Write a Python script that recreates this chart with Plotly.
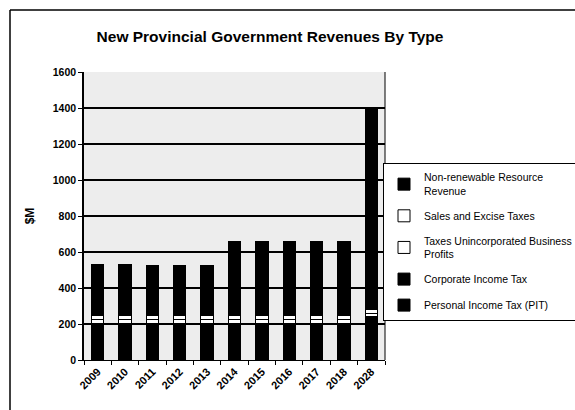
import plotly.graph_objects as go

years = ["2009", "2010", "2011", "2012", "2013", "2014", "2015", "2016", "2017", "2018", "2028"]
personal_income_tax = [205, 205, 205, 205, 205, 205, 205, 205, 205, 205, 240]
taxes_unincorporated = [20, 20, 20, 20, 20, 20, 20, 20, 20, 20, 20]
sales_excise = [20, 20, 20, 20, 20, 20, 20, 20, 20, 20, 20]
corporate_income_tax = [285, 285, 282, 282, 280, 415, 413, 412, 412, 412, 400]
non_renewable = [0, 0, 0, 0, 0, 0, 0, 0, 0, 0, 720]

# (legend label, values, colour, legend rank)
series = [
    ("Personal Income Tax (PIT)", personal_income_tax, "black", 5),
    ("Taxes Unincorporated Business<br>Profits", taxes_unincorporated, "white", 3),
    ("Sales and Excise Taxes", sales_excise, "white", 2),
    ("Corporate Income Tax", corporate_income_tax, "black", 4),
    ("Non-renewable Resource<br>Revenue", non_renewable, "black", 1),
]

fig = go.Figure()
for name, vals, col, rank in series:
    fig.add_trace(go.Bar(
        x=years, y=vals, name=name, legendrank=rank, legendgroup=name,
        marker=dict(color=col, line=dict(color="black", width=1)),
        width=0.45,
    ))

L, R, T, B = 84, 190, 72, 50
W, H = 575, 410
pw, ph = W - L - R, H - T - B

def px_x(p):
    return (p - L) / pw

def px_y(p):
    return (H - B - p) / ph

ytick_font = dict(size=10.5, family="Arial, Liberation Sans, sans-serif", weight="bold", color="black")
xtick_font = dict(size=11, family="Arial, Liberation Sans, sans-serif", weight="bold", color="black")

fig.update_layout(
    width=W, height=H,
    margin=dict(l=L, r=R, t=T, b=B, autoexpand=False),
    barmode="stack",
    paper_bgcolor="white",
    plot_bgcolor="#ededed",
    font=dict(family="Arial, Liberation Sans, sans-serif", color="black", size=10),
    title=dict(text="<b>New Provincial Government Revenues By Type</b>",
               x=270 / W, xanchor="center", xref="container",
               y=1 - 37 / H, yanchor="middle", yref="container",
               font=dict(size=15.5, color="black")),
    showlegend=True,
    legend=dict(
        x=px_x(383), y=px_y(163), xanchor="left", yanchor="top",
        bordercolor="black", borderwidth=1, bgcolor="white",
        font=dict(size=10.5), tracegroupgap=7,
        itemwidth=30,
    ),
    xaxis=dict(
        showgrid=False, showline=True, linecolor="black", linewidth=1,
        ticks="outside", tickson="boundaries", ticklen=4, tickcolor="black",
        tickangle=-45, tickfont=xtick_font,
    ),
    yaxis=dict(
        range=[0, 1600], dtick=200, showgrid=True, gridcolor="black", gridwidth=2,
        showline=True, linecolor="black", linewidth=1.5,
        ticks="outside", ticklen=4, tickcolor="black",
        tickfont=ytick_font,
        title=dict(text="<b>$M</b>", font=dict(size=12), standoff=16),
        zeroline=False,
    ),
    shapes=[
        dict(type="line", xref="paper", yref="paper",
             x0=px_x(10), x1=px_x(575), y0=px_y(10), y1=px_y(10),
             line=dict(color="black", width=1.5)),
        dict(type="line", xref="paper", yref="paper",
             x0=px_x(10), x1=px_x(10), y0=px_y(10), y1=px_y(410),
             line=dict(color="black", width=1.5)),
        dict(type="line", xref="paper", yref="paper",
             x0=1, x1=1, y0=0, y1=1,
             line=dict(color="black", width=1)),
    ],
)

fig.write_html("out.html", config={"displayModeBar": False},
               post_script="document.body.style.margin='0';")
